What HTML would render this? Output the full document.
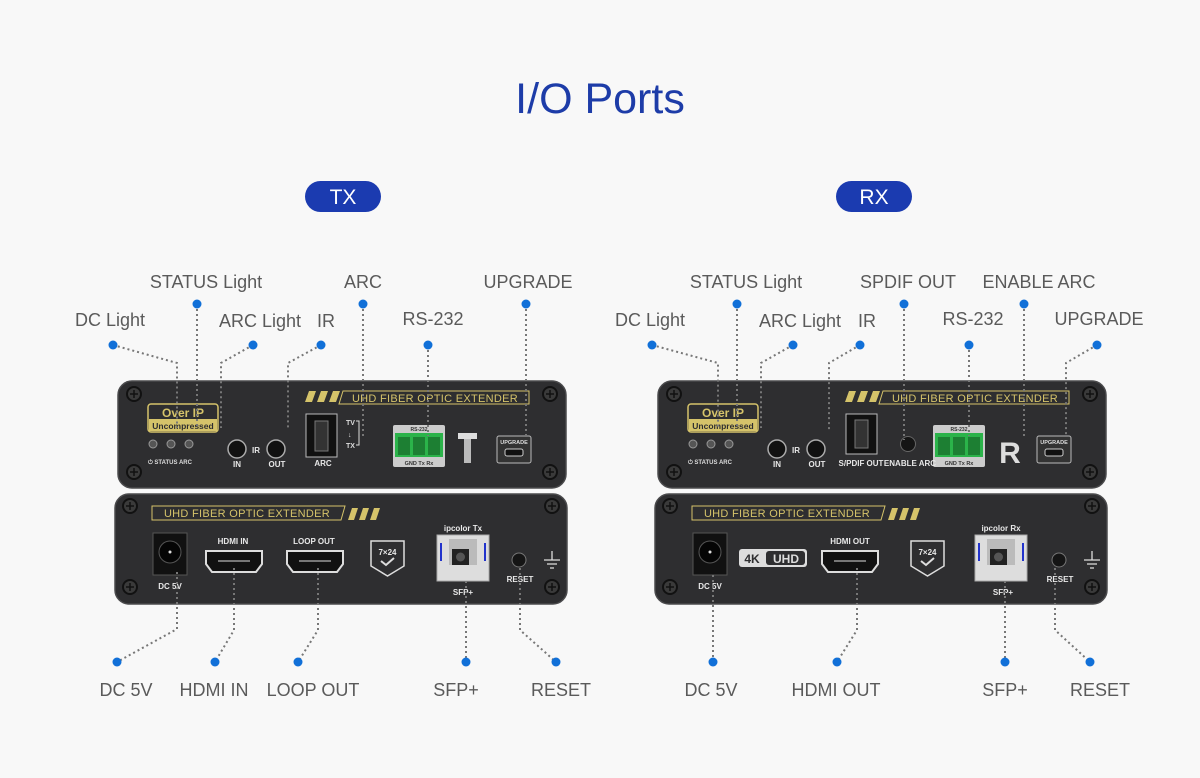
<!DOCTYPE html>
<html><head><meta charset="utf-8"><style>
html,body{margin:0;padding:0;background:#f8f8f8;}
svg{display:block;font-family:"Liberation Sans",sans-serif;}
.lbl{font-size:18px;fill:#5a5a5a;}
.ld{stroke:#777;stroke-width:2;stroke-dasharray:2 3;fill:none;}
.dot{fill:#1170d8;}
.w{fill:#e8e8e8;font-weight:bold;font-size:8px;text-anchor:middle;}
.g{fill:#d5c36a;}
</style></head><body>
<svg width="1200" height="778" viewBox="0 0 1200 778">
<rect width="1200" height="778" fill="#f8f8f8"/>
<text x="600" y="113" text-anchor="middle" font-size="43" fill="#1d3ca8">I/O Ports</text>
<rect x="305" y="181" width="76" height="31" rx="15.5" fill="#1b3bb0"/>
<text x="343" y="204" text-anchor="middle" font-size="21" fill="#fff">TX</text>
<rect x="836" y="181" width="76" height="31" rx="15.5" fill="#1b3bb0"/>
<text x="874" y="204" text-anchor="middle" font-size="21" fill="#fff">RX</text>

<defs>
<g id="screw"><circle r="8" fill="#111"/><circle r="6" fill="#3a3a3a"/><path d="M-4 0H4M0-4V4" stroke="#111" stroke-width="1.5"/></g>
<g id="topcommon">
<rect x="118" y="381" width="448" height="107" rx="14" fill="#2e2e30" stroke="#4a4a4c" stroke-width="1.5"/>
<use href="#screw" x="134" y="394"/><use href="#screw" x="550" y="394"/>
<use href="#screw" x="134" y="472"/><use href="#screw" x="550" y="472"/>
<rect x="148" y="404" width="70" height="28" rx="3" fill="#2e2e30" stroke="#d5c36a" stroke-width="1.5"/>
<rect x="149" y="419" width="68" height="12" fill="#d5c36a"/>
<text x="183" y="417" text-anchor="middle" font-size="12" font-weight="bold" class="g">Over IP</text>
<text x="183" y="429" text-anchor="middle" font-size="8.5" font-weight="bold" fill="#2e2e30">Uncompressed</text>
<circle cx="153" cy="444" r="4" fill="#555" stroke="#999"/><circle cx="171" cy="444" r="4" fill="#555" stroke="#999"/><circle cx="189" cy="444" r="4" fill="#555" stroke="#999"/>
<text x="148" y="464" font-size="6" font-weight="bold" fill="#ddd">⏻ STATUS ARC</text>
<circle cx="237" cy="449" r="9" fill="#111" stroke="#aaa" stroke-width="1.5"/>
<circle cx="276" cy="449" r="9" fill="#111" stroke="#aaa" stroke-width="1.5"/>
<text x="256" y="453" class="w" font-size="10">IR</text>
<text x="237" y="467" class="w" font-size="6.5">IN</text><text x="277" y="467" class="w" font-size="6.5">OUT</text>
<path d="M305 402l4-11h7l-4 11zM317 402l4-11h7l-4 11zM329 402l4-11h7l-4 11z" class="g"/>
<path d="M343 391h186v13h-190z" fill="none" stroke="#d5c36a" stroke-width="1"/>
<text x="435" y="402" text-anchor="middle" font-size="11" class="g" letter-spacing="0.3">UHD FIBER OPTIC EXTENDER</text>
<rect x="393" y="425" width="52" height="42" rx="2" fill="#ccc"/>
<rect x="395" y="433" width="48" height="24" fill="#2bb34a"/>
<rect x="398" y="437" width="12" height="18" fill="#1d7f33"/><rect x="413" y="437" width="12" height="18" fill="#1d7f33"/><rect x="428" y="437" width="12" height="18" fill="#1d7f33"/>
<text x="419" y="431" font-size="5" text-anchor="middle" fill="#333" font-weight="bold">RS-232</text>
<text x="419" y="465" font-size="5.5" text-anchor="middle" fill="#333" font-weight="bold">GND  Tx  Rx</text>
<rect x="497" y="436" width="34" height="27" rx="2" fill="#333" stroke="#bbb"/>
<text x="514" y="444" font-size="5.5" text-anchor="middle" fill="#ddd" font-weight="bold">UPGRADE</text>
<rect x="505" y="449" width="18" height="7" rx="2" fill="#111" stroke="#ccc"/>
</g>
<g id="botcommon">
<rect x="115" y="494" width="452" height="110" rx="14" fill="#2e2e30" stroke="#4a4a4c" stroke-width="1.5"/>
<use href="#screw" x="130" y="506"/><use href="#screw" x="552" y="506"/>
<use href="#screw" x="130" y="587"/><use href="#screw" x="552" y="587"/>
<path d="M152 506h193l-4 14h-189z" fill="none" stroke="#d5c36a" stroke-width="1"/>
<text x="247" y="517" text-anchor="middle" font-size="11" class="g" letter-spacing="0.3">UHD FIBER OPTIC EXTENDER</text>
<path d="M348 520l4-12h6l-4 12zM359 520l4-12h6l-4 12zM370 520l4-12h6l-4 12z" class="g"/>
<rect x="153" y="533" width="34" height="42" fill="#111" stroke="#555"/>
<circle cx="170" cy="552" r="11" fill="#050505" stroke="#555"/><circle cx="170" cy="552" r="1.5" fill="#ddd"/>
<text x="170" y="589" class="w">DC 5V</text>
<path d="M371 541h33v25l-16.5 10l-16.5-10z" fill="none" stroke="#ddd" stroke-width="1.5"/>
<text x="387.5" y="555" class="w" font-size="8">7×24</text>
<path d="M381 561l5 4 8-7" stroke="#ddd" stroke-width="2" fill="none"/>
<circle cx="519" cy="560" r="7" fill="#151515" stroke="#777"/>
<text x="520" y="582" class="w" font-size="7.5">RESET</text>
<path d="M552 551v9M544 560h16M547 564h10M550 568h4" stroke="#ddd" stroke-width="1.3"/>
<text x="463" y="595" class="w" font-size="7.5">SFP+</text>
</g>
<g id="hdmi"><path d="M0 0h56v13l-6 8h-44l-6-8z" fill="#111" stroke="#ddd" stroke-width="2"/><rect x="12" y="9" width="32" height="2" fill="#777"/></g>
<g id="sfp"><rect x="0" y="0" width="52" height="46" fill="#ddd" stroke="#aaa"/><rect x="3" y="8" width="2" height="18" fill="#2233cc"/><rect x="47" y="8" width="2" height="18" fill="#2233cc"/><rect x="12" y="4" width="28" height="26" fill="#bbb"/><rect x="15" y="14" width="17" height="16" fill="#222"/><circle cx="23.5" cy="22" r="4.5" fill="#555"/></g>
</defs>

<!-- TX -->
<use href="#topcommon"/>
<rect x="306" y="414" width="31" height="43" fill="#111" stroke="#bbb"/>
<rect x="315" y="421" width="13" height="30" fill="#333" stroke="#777"/>
<text x="323" y="466" class="w" font-size="6.5">ARC</text>
<text x="346" y="425" font-size="7" font-weight="bold" fill="#ddd">TV</text>
<text x="348" y="437" font-size="7" font-weight="bold" fill="#ddd">↓</text>
<text x="346" y="448" font-size="7" font-weight="bold" fill="#ddd">TX</text>
<path d="M356 421h3v24h-3" stroke="#ddd" fill="none"/>
<rect x="458" y="433" width="19" height="6" fill="#ddd"/><rect x="464" y="439" width="7" height="24" fill="#bbb"/>
<use href="#botcommon"/>
<text x="233" y="544" class="w">HDMI IN</text><use href="#hdmi" x="206" y="551"/>
<text x="314" y="544" class="w">LOOP OUT</text><use href="#hdmi" x="287" y="551"/>
<text x="463" y="531" class="w" font-size="8.5">ipcolor  Tx</text><use href="#sfp" x="437" y="535"/>

<!-- RX -->
<g transform="translate(540,0)"><use href="#topcommon"/><use href="#botcommon"/></g>
<rect x="846" y="414" width="31" height="40" fill="#111" stroke="#bbb"/>
<rect x="855" y="420" width="13" height="28" fill="#333" stroke="#777"/>
<text x="861" y="466" class="w" font-size="6.5">S/PDIF OUT</text>
<circle cx="908" cy="444" r="7.5" fill="#151515" stroke="#666"/>
<text x="910" y="466" class="w" font-size="6.5">ENABLE ARC</text>
<text x="1010" y="463" text-anchor="middle" font-size="30" font-weight="bold" fill="#ddd">R</text>
<rect x="739" y="549" width="68" height="18" rx="3" fill="#ddd"/><rect x="766" y="551" width="39" height="14" rx="3" fill="#2e2e30"/>
<text x="752" y="563" text-anchor="middle" font-size="12" font-weight="bold" fill="#2e2e30">4K</text>
<text x="786" y="563" text-anchor="middle" font-size="12" font-weight="bold" fill="#ddd">UHD</text>
<text x="850" y="544" class="w">HDMI OUT</text><use href="#hdmi" x="822" y="551"/>
<text x="1001" y="531" class="w" font-size="8.5">ipcolor  Rx</text><use href="#sfp" x="975" y="535"/>

<!-- leaders TX -->
<path class="ld" d="M113 345L177 363V428M197 304V428M253 345L221 363V428M321 345L288 363V430M363 304V436M428 345V436M526 304V436"/>
<path class="ld" d="M177 572V629L117 662M234 568V630L215 662M318 568V630L298 662M466 581V662M520 568V630L556 662"/>
<!-- leaders RX -->
<path class="ld" d="M652 345L718 363V428M737 304V428M793 345L761 363V428M860 345L829 363V430M904 304V440M969 345V436M1024 304V436M1097 345L1066 363V436"/>
<path class="ld" d="M713 575V662M857 568V630L837 662M1005 581V662M1055 568V630L1090 662"/>
<g class="dot">
<circle cx="113" cy="345" r="4.5"/><circle cx="197" cy="304" r="4.5"/><circle cx="253" cy="345" r="4.5"/><circle cx="321" cy="345" r="4.5"/><circle cx="363" cy="304" r="4.5"/><circle cx="428" cy="345" r="4.5"/><circle cx="526" cy="304" r="4.5"/>
<circle cx="652" cy="345" r="4.5"/><circle cx="737" cy="304" r="4.5"/><circle cx="793" cy="345" r="4.5"/><circle cx="860" cy="345" r="4.5"/><circle cx="904" cy="304" r="4.5"/><circle cx="969" cy="345" r="4.5"/><circle cx="1024" cy="304" r="4.5"/><circle cx="1097" cy="345" r="4.5"/>
<circle cx="117" cy="662" r="4.5"/><circle cx="215" cy="662" r="4.5"/><circle cx="298" cy="662" r="4.5"/><circle cx="466" cy="662" r="4.5"/><circle cx="556" cy="662" r="4.5"/>
<circle cx="713" cy="662" r="4.5"/><circle cx="837" cy="662" r="4.5"/><circle cx="1005" cy="662" r="4.5"/><circle cx="1090" cy="662" r="4.5"/>
</g>
<g class="lbl" text-anchor="middle">
<text x="110" y="326">DC Light</text><text x="206" y="288">STATUS Light</text><text x="260" y="327">ARC Light</text><text x="326" y="327">IR</text><text x="363" y="288">ARC</text><text x="433" y="325">RS-232</text><text x="528" y="288">UPGRADE</text>
<text x="650" y="326">DC Light</text><text x="746" y="288">STATUS Light</text><text x="800" y="327">ARC Light</text><text x="867" y="327">IR</text><text x="908" y="288">SPDIF OUT</text><text x="1039" y="288">ENABLE ARC</text><text x="973" y="325">RS-232</text><text x="1099" y="325">UPGRADE</text>
<text x="126" y="696">DC 5V</text><text x="214" y="696">HDMI IN</text><text x="313" y="696">LOOP OUT</text><text x="456" y="696">SFP+</text><text x="561" y="696">RESET</text>
<text x="711" y="696">DC 5V</text><text x="836" y="696">HDMI OUT</text><text x="1005" y="696">SFP+</text><text x="1100" y="696">RESET</text>
</g>
</svg>
</body></html>
